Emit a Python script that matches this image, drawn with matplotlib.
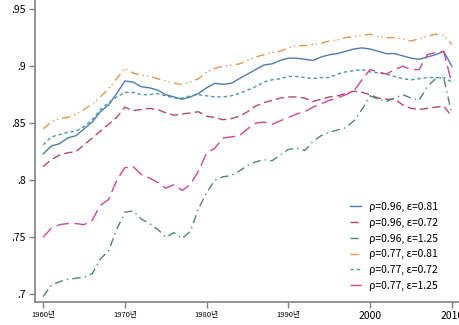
import numpy as np
import matplotlib
matplotlib.use("Agg")
import matplotlib.pyplot as plt

plt.rcParams['font.family'] = ['Noto Sans CJK KR', 'DejaVu Sans']

years = np.arange(1960, 2011)

# rho=0.96, eps=0.81
s_096_081 = [0.823, 0.830, 0.832, 0.837, 0.839, 0.845, 0.851, 0.860, 0.866, 0.876,
             0.887, 0.886, 0.882, 0.881, 0.879, 0.875, 0.873, 0.871, 0.873, 0.876,
             0.881, 0.885, 0.884, 0.885, 0.889, 0.893, 0.897, 0.901, 0.902, 0.905,
             0.907, 0.907, 0.906, 0.905, 0.908, 0.910, 0.911, 0.913, 0.915, 0.916,
             0.915, 0.913, 0.911, 0.911, 0.909, 0.907, 0.906, 0.908, 0.910, 0.913,
             0.900]
# rho=0.96, eps=0.72
s_096_072 = [0.812, 0.818, 0.822, 0.824, 0.825, 0.831, 0.837, 0.843, 0.849, 0.855,
             0.864, 0.861, 0.862, 0.863, 0.862, 0.859, 0.857, 0.858, 0.859, 0.860,
             0.856, 0.855, 0.853, 0.854, 0.856, 0.860, 0.865, 0.868, 0.870, 0.872,
             0.873, 0.873, 0.872, 0.869, 0.871, 0.873, 0.874, 0.876, 0.878, 0.877,
             0.875, 0.872, 0.871, 0.871, 0.866, 0.863, 0.862, 0.863, 0.864, 0.865,
             0.856]
# rho=0.96, eps=1.25
s_096_125 = [0.698, 0.708, 0.711, 0.713, 0.714, 0.715, 0.718, 0.731, 0.738, 0.757,
             0.772, 0.773, 0.766, 0.762, 0.757, 0.750, 0.754, 0.749, 0.755, 0.775,
             0.789, 0.800, 0.803, 0.804, 0.808, 0.813, 0.816, 0.818, 0.817, 0.822,
             0.827, 0.828, 0.826, 0.834, 0.839, 0.842, 0.844, 0.846, 0.852, 0.862,
             0.874, 0.871, 0.869, 0.872, 0.875, 0.872, 0.870, 0.882, 0.889, 0.890,
             0.858]
# rho=0.77, eps=0.81
s_077_081 = [0.845, 0.851, 0.854, 0.855, 0.858, 0.862, 0.867, 0.873, 0.880, 0.889,
             0.898, 0.894, 0.892, 0.891, 0.889, 0.887, 0.885, 0.884, 0.886, 0.889,
             0.895, 0.898, 0.900, 0.901, 0.902, 0.905, 0.908, 0.910, 0.912, 0.913,
             0.916, 0.918, 0.918, 0.919, 0.920, 0.922, 0.923, 0.925, 0.926, 0.927,
             0.928, 0.926, 0.925, 0.925, 0.924, 0.922, 0.924, 0.926, 0.928, 0.927,
             0.919]
# rho=0.77, eps=0.72
s_077_072 = [0.831, 0.838, 0.840, 0.842, 0.843, 0.847, 0.853, 0.862, 0.868, 0.873,
             0.877, 0.877, 0.875, 0.875, 0.876, 0.874, 0.872, 0.872, 0.874, 0.875,
             0.874, 0.873, 0.873, 0.874, 0.876, 0.879, 0.882, 0.886, 0.888, 0.889,
             0.891, 0.891, 0.890, 0.889, 0.890, 0.890, 0.893, 0.895, 0.896, 0.897,
             0.895, 0.894, 0.893, 0.891, 0.889, 0.888, 0.889, 0.890, 0.890, 0.890,
             0.886]
# rho=0.77, eps=1.25
s_077_125 = [0.750, 0.758, 0.761, 0.762, 0.762, 0.761, 0.765, 0.778, 0.783, 0.800,
             0.811, 0.812, 0.805, 0.802, 0.798, 0.793, 0.796, 0.791, 0.796, 0.808,
             0.824, 0.828, 0.837, 0.838, 0.839, 0.845, 0.850, 0.851, 0.849, 0.852,
             0.855, 0.858, 0.860, 0.864, 0.867, 0.870, 0.872, 0.875, 0.878, 0.888,
             0.897, 0.895, 0.893, 0.897, 0.900, 0.897, 0.897, 0.910, 0.912, 0.913,
             0.885]

labels = ["ρ=0.96, ε=0.81", "ρ=0.96, ε=0.72", "ρ=0.96, ε=1.25",
          "ρ=0.77, ε=0.81", "ρ=0.77, ε=0.72", "ρ=0.77, ε=1.25"]
series = [s_096_081, s_096_072, s_096_125, s_077_081, s_077_072, s_077_125]
colors = ["#4a7db8", "#b8466f", "#4f8a6a", "#e8964e", "#4f9a9c", "#d2449a"]
styles = ["-", (0, (6, 3)), (0, (6, 3, 1, 3)), (0, (6, 3, 1, 2, 1, 3)),
          (0, (2.5, 2)), (0, (9, 4))]

xtick_pos = [1960, 1970, 1980, 1990, 2000, 2010]
xtick_lab = ["1960년", "1970년", "1980년", "1990년", "2000", "2010"]
ytick_pos = [0.7, 0.75, 0.8, 0.85, 0.9, 0.95]
ytick_lab = [".7", ".75", ".8", ".85", ".9", ".95"]

fig = plt.figure(figsize=(4.6, 3.25), dpi=100)
ax = fig.add_axes([35 / 460, 23 / 325, 425 / 460, 302 / 325])

for vals, lab, c, ls in zip(series, labels, colors, styles):
    ax.plot(years, vals, color=c, linestyle=ls, linewidth=1.0, label=lab)

ax.set_xlim(1959.0, 2011.0)
ax.set_ylim(0.6932, 0.958)

ax.set_xticks(xtick_pos)
ax.set_xticklabels(xtick_lab)
for t, lab in zip(ax.get_xticklabels(), xtick_lab):
    t.set_fontsize(5.5 if lab.endswith("년") else 7.5)
ax.set_yticks(ytick_pos)
ax.set_yticklabels(ytick_lab, fontsize=7.5)

for s in ["top", "right"]:
    ax.spines[s].set_visible(False)
for s in ["left", "bottom"]:
    ax.spines[s].set_color("#808080")
    ax.spines[s].set_linewidth(1.2)
ax.tick_params(axis="both", colors="#808080", labelcolor="black", length=4, width=1, pad=2.5)

leg = ax.legend(loc="lower right", frameon=False, fontsize=7.5, handlelength=1.0,
                handletextpad=0.8, labelspacing=0.55, borderaxespad=0.3,
                bbox_to_anchor=(0.965, 0.013))

fig.savefig("out.png", dpi=100)
